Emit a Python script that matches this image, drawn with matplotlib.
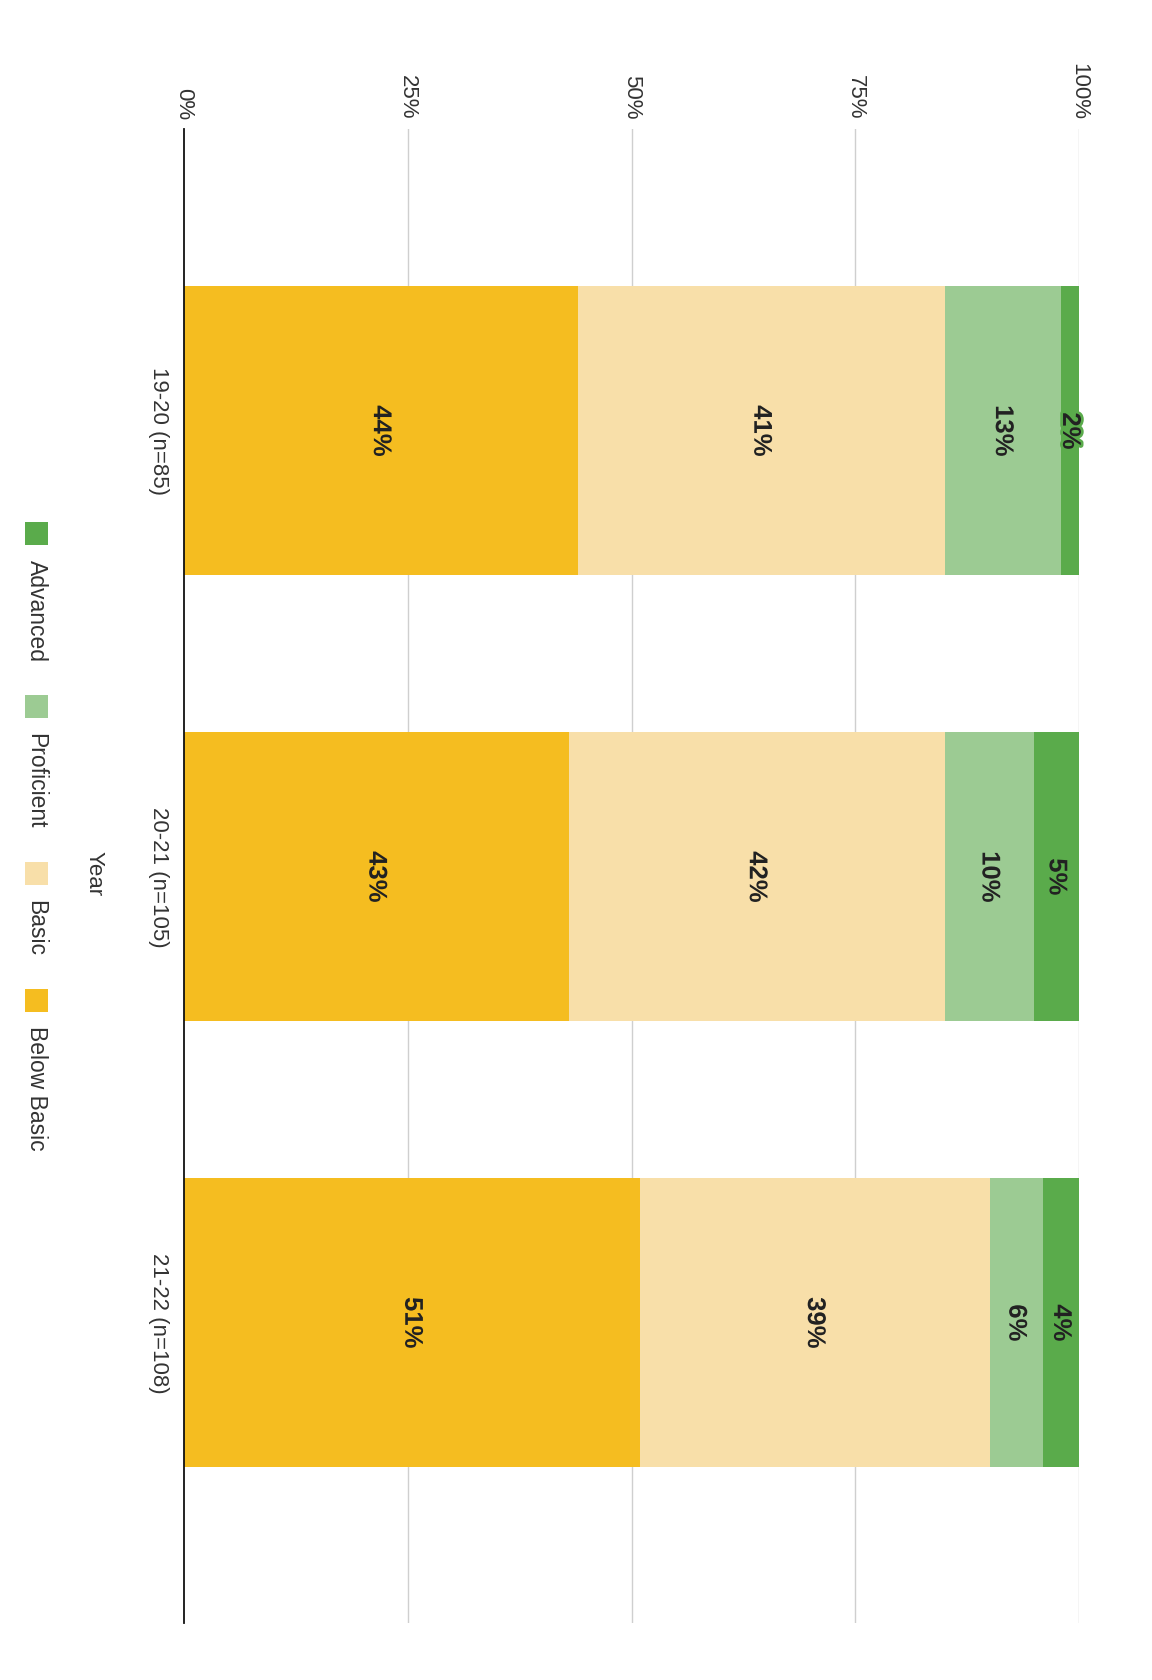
import matplotlib
matplotlib.use("Agg")
import matplotlib.pyplot as plt
from matplotlib.patches import Rectangle
import matplotlib.patheffects as pe

plt.rcParams['font.family'] = ['Liberation Sans', 'DejaVu Sans']

categories = ["19-20 (n=85)", "20-21 (n=105)", "21-22 (n=108)"]
series = ["Below Basic", "Basic", "Proficient", "Advanced"]
below_basic = [44, 43, 51]
basic = [41, 42, 39]
proficient = [13, 10, 6]
advanced = [2, 5, 4]
tick_vals = [0, 25, 50, 75, 100]
tick_labels = ["0%", "25%", "50%", "75%", "100%"]
legend_order = ["Advanced", "Proficient", "Basic", "Below Basic"]

colors = {
    "Below Basic": "#f5bd20",
    "Basic": "#f8dfa9",
    "Proficient": "#9ccb93",
    "Advanced": "#5aab4b",
}
values = {
    "Below Basic": below_basic,
    "Basic": basic,
    "Proficient": proficient,
    "Advanced": advanced,
}

W, H = 1152, 1680
fig = plt.figure(figsize=(W / 100, H / 100), dpi=100)
fig.patch.set_facecolor("white")

left, right = 184 / W, 1079 / W
top, bottom = 1 - 129 / H, 1 - 1623 / H
ax = fig.add_axes([left, bottom, right - left, top - bottom])

ypos = list(range(len(categories)))
lefts = [0] * len(categories)
for s in series:
    vals = values[s]
    ax.barh(ypos, vals, left=lefts, height=0.648, color=colors[s],
            edgecolor="none", zorder=3)
    for i, v in enumerate(vals):
        ax.text(lefts[i] + v / 2, ypos[i], f"{v}%", rotation=-90,
                ha="center", va="center", fontsize=18.5, fontweight="bold",
                color="#222222", zorder=5,
                path_effects=[pe.withStroke(linewidth=4, foreground=colors[s])])
    lefts = [a + b for a, b in zip(lefts, vals)]

ax.set_xlim(0, 100)
ax.set_ylim(2.673, -0.677)
ax.xaxis.tick_top()
ax.set_xticks(tick_vals)
ax.set_xticklabels(tick_labels, rotation=-90, fontsize=16, color="#333333")
ax.tick_params(axis="x", length=0, pad=6.5)
ax.set_yticks(ypos)
ax.set_yticklabels(categories, rotation=-90, fontsize=16, color="#333333",
                   va="center", ha="right")
ax.tick_params(axis="y", length=0, pad=10.5)
for t in tick_vals[1:]:
    ax.axvline(t, color="#cfcfcf", lw=1, zorder=1)
for sp in ["top", "right", "bottom"]:
    ax.spines[sp].set_visible(False)
ax.spines["left"].set_color("#111111")
ax.spines["left"].set_linewidth(1.3)
ax.spines["left"].set_zorder(4)

# axis title (original x-axis "Year")
fig.text(94 / W, 1 - 874 / H, "Year", rotation=-90, ha="center", va="center",
         fontsize=16, color="#333333")

# legend, drawn manually (rotated layout)
fig.canvas.draw()
renderer = fig.canvas.get_renderer()
y = 522
sq = 23
for name in legend_order:
    fig.patches.append(Rectangle((25 / W, 1 - (y + sq) / H), sq / W, sq / H,
                                 transform=fig.transFigure, facecolor=colors[name],
                                 edgecolor="none"))
    y += sq + 15
    t = fig.text(36 / W, 1 - y / H, name, rotation=-90, ha="center", va="top",
                 fontsize=16.5, color="#333333")
    bb = t.get_window_extent(renderer)
    y += bb.height + 33

fig.savefig("out.png", dpi=100, facecolor="white")
